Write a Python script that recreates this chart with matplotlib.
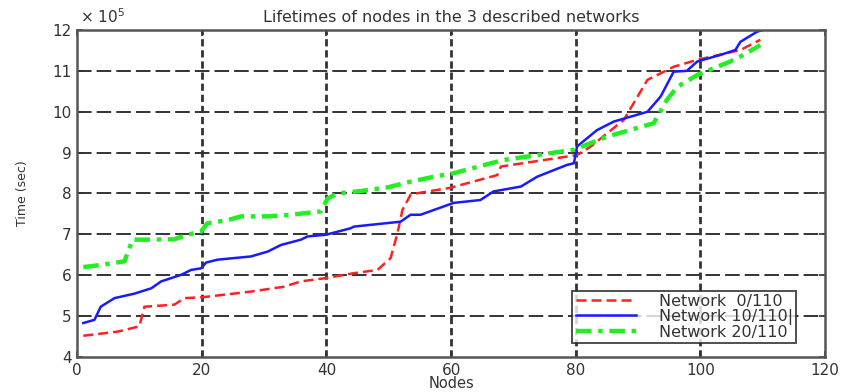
import numpy as np
import matplotlib.pyplot as plt

# values (x in nodes, y in units of 1e5 s)
red_x = [1, 6.5, 10.0, 10.8, 15.6, 17.2, 20.0, 27.9, 33.2, 35.9, 39.9, 44.4, 48.2, 50.3, 51.4,
         52.2, 53.5, 55.1, 59.9, 67.4, 68.0, 80.2, 82.4, 87.7, 91.5, 95.7, 99.5, 106.4, 109.6]
red_y = [4.52, 4.62, 4.75, 5.23, 5.28, 5.44, 5.46, 5.60, 5.72, 5.85, 5.93, 6.05, 6.13, 6.42, 7.03,
         7.60, 7.97, 8.02, 8.14, 8.45, 8.66, 8.94, 9.15, 9.80, 10.78, 11.10, 11.27, 11.51, 11.76]

blue_x = [1, 2.8, 3.8, 6.0, 9.2, 11.9, 13.5, 16.7, 18.3, 19.9, 20.7, 22.5, 27.9, 30.6, 32.7,
          35.9, 37.0, 39.9, 43.9, 44.4, 51.9, 53.5, 55.1, 60.4, 64.7, 66.8, 71.2, 73.8, 78.6,
          79.7, 80.2, 83.4, 86.1, 91.5, 93.6, 95.7, 97.8, 99.5, 103.2, 105.6, 106.4, 109.1, 110]
blue_y = [4.83, 4.91, 5.23, 5.44, 5.55, 5.68, 5.85, 6.01, 6.13, 6.17, 6.31, 6.38, 6.46, 6.58, 6.74,
          6.87, 6.95, 6.99, 7.15, 7.19, 7.31, 7.48, 7.48, 7.77, 7.84, 8.05, 8.17, 8.41, 8.70,
          8.74, 9.15, 9.55, 9.76, 10.00, 10.37, 10.98, 11.00, 11.23, 11.39, 11.51, 11.71, 11.96, 12.0]

green_x = [1, 3.8, 7.6, 8.1, 8.9, 10.8, 15.6, 17.7, 19.9, 20.9, 24.2, 26.3, 30.6, 34.3, 39.1,
           40.2, 41.8, 45.5, 49.8, 53.5, 57.3, 60.5, 68.4, 79.7, 85.0, 92.5, 94.6, 96.3, 99.5,
           104.8, 106.4, 109.6]
green_y = [6.20, 6.25, 6.34, 6.54, 6.87, 6.87, 6.88, 6.99, 7.07, 7.27, 7.35, 7.44, 7.44, 7.48, 7.56,
           7.88, 8.00, 8.06, 8.15, 8.29, 8.41, 8.50, 8.82, 9.07, 9.39, 9.72, 10.29, 10.61, 10.90,
           11.23, 11.35, 11.63]

labels = ["Network  0/110", "Network 10/110|", "Network 20/110"]

plt.rcParams['font.family'] = ['DejaVu Sans']

fig = plt.figure(figsize=(8.42, 3.92), dpi=100)
ax = fig.add_axes([0.0915, 0.0893, 0.8885, 0.8342])

ax.plot(red_x, red_y, color="#ff2020", lw=1.8, dashes=(4, 2), label=labels[0])
ax.plot(blue_x, blue_y, color="#1a1aff", lw=1.8, label=labels[1])
ax.plot(green_x, green_y, color="#22ee22", lw=3.2, dashes=(3.5, 1.5, 1, 1.5), label=labels[2])

ax.set_xlim(0, 120)
ax.set_ylim(4, 12)
ax.set_xticks(np.arange(0, 121, 20))
ax.set_yticks(np.arange(4, 13, 1))

for y in range(5, 13):
    ax.axhline(y, color="#333333", lw=1.4, dashes=(7.5, 2.6), zorder=0.5)
for x in range(20, 120, 20):
    ax.axvline(x, color="#333333", lw=2.0, dashes=(2.6, 1.4), zorder=0.5)

ax.tick_params(direction="in", top=True, right=True, labelsize=11, length=4,
               width=1.2, colors="#333333", pad=4)
for s in ax.spines.values():
    s.set_linewidth(1.8)
    s.set_color("#555555")

ax.set_title("Lifetimes of nodes in the 3 described networks", fontsize=11.5, color="#333333", pad=6)
ax.set_xlabel("Nodes", fontsize=10.5, color="#333333", labelpad=-1)
ax.set_ylabel("Time (sec)", fontsize=9, color="#333333", labelpad=17)
ax.text(0.004, 1.012, "× 10$^5$", transform=ax.transAxes, fontsize=11, color="#333333",
        ha="left", va="bottom")

leg = ax.legend(loc="lower right", bbox_to_anchor=(0.961, 0.043), fontsize=11.5,
                frameon=True, fancybox=False, borderpad=0.2, labelspacing=0.0,
                handlelength=3.8, handletextpad=1.4, borderaxespad=0)
leg.get_frame().set_edgecolor("#222222")
leg.get_frame().set_linewidth(1.4)
for t in leg.get_texts():
    t.set_color("#333333")

fig.savefig("out.png", dpi=100)
